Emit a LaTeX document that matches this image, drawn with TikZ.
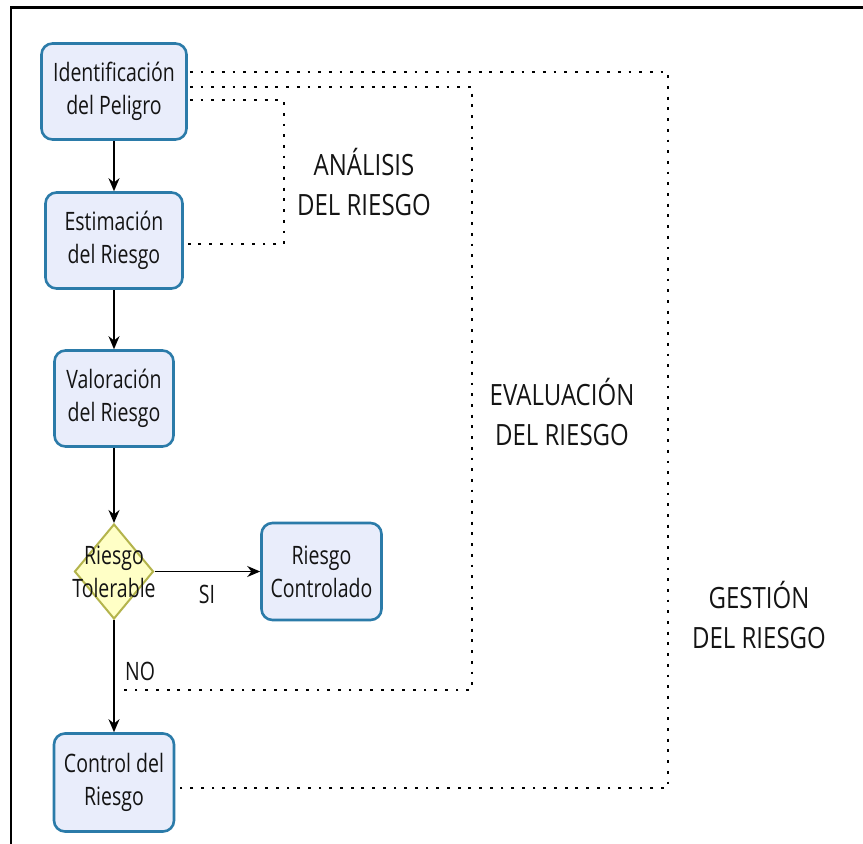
\documentclass[tikz,border=0pt]{standalone}
\usepackage{fontspec}
\setmainfont{Open Sans}
\usetikzlibrary{shapes.geometric,arrows.meta,calc}
\definecolor{boxfill}{HTML}{E9EDFB}
\definecolor{boxline}{HTML}{2B7BA9}
\definecolor{diafill}{HTML}{FFFFC6}
\definecolor{dialine}{HTML}{B4B44C}
\definecolor{txt}{HTML}{141414}
\newcommand{\bt}[1]{\scalebox{1}[1.3]{#1}}
\newcommand{\lt}[1]{\scalebox{1}[1.22]{#1}}
\begin{document}
\begin{tikzpicture}[x=1pt,y=-1pt,
  procbox/.style={draw=boxline,fill=boxfill,line width=2.6pt,rounded corners=11pt,
    inner sep=0pt,align=center,text=txt,font=\fontsize{19.5}{33}\selectfont},
  decbox/.style={draw=dialine,fill=diafill,line width=2pt,shape=diamond,inner sep=0pt},
  arr/.style={line width=1.5pt,-{Stealth[length=13pt,width=11pt]}},
  dots/.style={line width=2.8pt,dash pattern=on 2.8pt off 7.9pt},
  lab/.style={align=center,text=txt,font=\fontsize{24}{40}\selectfont},
  small/.style={text=txt,font=\fontsize{19.5}{24}\selectfont}]
\useasboundingbox (0,0) rectangle (863,844);
\fill[white] (0,0) rectangle (863,844);
% frame
\coordinate (fbl) at (11,846);
\coordinate (ftl) at (11,7.5);
\coordinate (ftr) at (866,7.5);
\draw[line width=2.8pt] (fbl) -- (ftl) -- (ftr);
% nodes
\node[procbox,minimum width=145pt,minimum height=96pt] (ident) at (114,91.5) {\bt{Identificación}\\\bt{del Peligro}};
\node[procbox,minimum width=137pt,minimum height=96pt] (estim) at (114,240.5) {\bt{Estimación}\\\bt{del Riesgo}};
\node[procbox,minimum width=119pt,minimum height=96pt] (valor) at (114,398.5) {\bt{Valoración}\\\bt{del Riesgo}};
\node[decbox,minimum width=79pt,minimum height=95pt] (dia) at (114,571.5) {};
\node[text=txt,align=center,font=\fontsize{19.5}{33}\selectfont] (diatext) at (dia.center) {\bt{Riesgo}\\\bt{Tolerable}};
\node[procbox,minimum width=120pt,minimum height=97pt] (contr) at (321.5,571.5) {\bt{Riesgo}\\\bt{Controlado}};
\node[procbox,minimum width=120pt,minimum height=98pt] (control) at (114,782.5) {\bt{Control del}\\\bt{Riesgo}};
% arrows
\draw[arr] (ident) -- (estim);
\draw[arr] (estim) -- (valor);
\draw[arr] (valor.south) -- (dia.north);
\draw[arr] (dia.east) -- (contr.west);
\draw[arr] (dia.south) -- (control.north);
\node[small] (si) at (207,594) {\bt{SI}};
\node[small] (no) at (140,671) {\bt{NO}};
% dotted groups
\coordinate (a1) at (284,100);
\coordinate (a2) at (284,244);
\draw[dots] ($(ident.east)+(2,8.5)$) -- (a1) -- (a2) -- ($(estim.east |- a2)+(2,0)$);
\coordinate (e1) at (472,87);
\coordinate (e2) at (472,690);
\coordinate (e3) at (118,690);
\draw[dots] ($(ident.east)+(2,-4.5)$) -- (e1) -- (e2) -- (e3);
\coordinate (g1) at (668,72);
\coordinate (g2) at (668,788);
\draw[dots] ($(ident.east)+(2,-19.5)$) -- (g1) -- (g2) -- ($(control.east |- g2)+(2,0)$);
% labels
\node[lab] (analisis) at (364,182) {\lt{ANÁLISIS}\\\lt{DEL RIESGO}};
\node[lab] (evaluacion) at (562,412) {\lt{EVALUACIÓN}\\\lt{DEL RIESGO}};
\node[lab] (gestion) at (759,615) {\lt{GESTIÓN}\\\lt{DEL RIESGO}};
\end{tikzpicture}
\end{document}
